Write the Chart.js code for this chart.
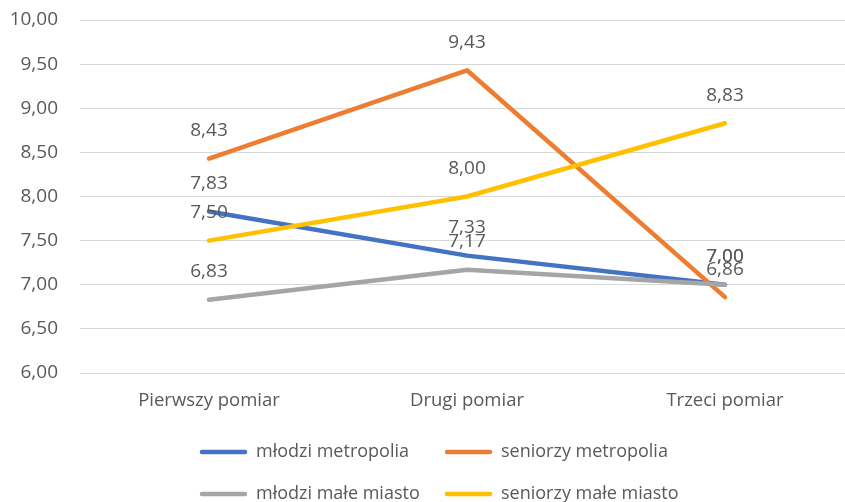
<!DOCTYPE html>
<html lang="pl">
<head>
<meta charset="utf-8">
<script src="https://cdn.jsdelivr.net/npm/chart.js@4"></script>
<style>
  html, body { margin: 0; padding: 0; background: #fff; overflow: hidden; }
  #wrap { position: relative; width: 854px; height: 502px; }
</style>
</head>
<body>
<div id="wrap"><canvas id="c"></canvas></div>
<script>
// Measurements (categories) and mean scores per group
const categories = ['Pierwszy pomiar', 'Drugi pomiar', 'Trzeci pomiar'];
const seriesNames = ['młodzi metropolia', 'seniorzy metropolia', 'młodzi małe miasto', 'seniorzy małe miasto'];
const mlodziMetropolia = [7.83, 7.33, 7.00];
const seniorzyMetropolia = [8.43, 9.43, 6.86];
const mlodziMaleMiasto = [6.83, 7.17, 7.00];
const seniorzyMaleMiasto = [7.50, 8.00, 8.83];
const yTicks = { min: 6, max: 10, step: 0.5 };

const colors = ['#4472C4', '#ED7D31', '#A5A5A5', '#FFC000'];
const values = [mlodziMetropolia, seniorzyMetropolia, mlodziMaleMiasto, seniorzyMaleMiasto];
const FONT = '"Open Sans", "Liberation Sans", sans-serif';
const TEXT = '#595959';

const fmt = v => v.toFixed(2).replace('.', ',');

// Value labels above each point
const valueLabels = {
  id: 'valueLabels',
  afterDatasetsDraw(chart) {
    const ctx = chart.ctx;
    ctx.save();
    ctx.font = '19px ' + FONT;
    ctx.fillStyle = TEXT;
    ctx.textAlign = 'center';
    ctx.textBaseline = 'middle';
    chart.data.datasets.forEach((ds, i) => {
      const meta = chart.getDatasetMeta(i);
      meta.data.forEach((pt, j) => {
        ctx.fillText(fmt(ds.data[j]), pt.x, pt.y - 28);
      });
    });
    ctx.restore();
  }
};

// Two-row legend under the plot
const bottomLegend = {
  id: 'bottomLegend',
  afterDraw(chart) {
    const ctx = chart.ctx;
    const cols = [200, 445];
    const rows = [452, 494];
    ctx.save();
    ctx.font = '18px ' + FONT;
    ctx.textBaseline = 'middle';
    ctx.lineCap = 'round';
    ctx.lineWidth = 4.5;
    chart.data.datasets.forEach((ds, i) => {
      const x = cols[i % 2];
      const y = rows[Math.floor(i / 2)];
      ctx.strokeStyle = ds.borderColor;
      ctx.beginPath();
      ctx.moveTo(x + 2, y);
      ctx.lineTo(x + 45, y);
      ctx.stroke();
      ctx.fillStyle = TEXT;
      ctx.textAlign = 'left';
      ctx.fillText(ds.label, x + 56, y);
    });
    ctx.restore();
  }
};

new Chart(document.getElementById('c'), {
  type: 'line',
  data: {
    labels: categories,
    datasets: seriesNames.map((name, i) => ({
      label: name,
      data: values[i],
      borderColor: colors[i],
      backgroundColor: colors[i],
      borderWidth: 4.5,
      borderCapStyle: 'round',
      borderJoinStyle: 'round',
      pointRadius: 0,
      tension: 0,
      fill: false,
      order: seriesNames.length - 1 - i
    }))
  },
  options: {
    responsive: true,
    maintainAspectRatio: false,
    animation: false,
    layout: { padding: { top: 20, right: 0, left: 0, bottom: 0 } },
    plugins: {
      legend: { display: false },
      tooltip: { enabled: false }
    },
    scales: {
      x: {
        offset: true,
        grid: { display: false, drawTicks: false },
        border: { display: false },
        ticks: { color: TEXT, font: { family: FONT, size: 18.5 }, padding: 17 },
        afterFit(s) { s.height = 129; s.paddingLeft = 0; s.paddingRight = 0; }
      },
      y: {
        min: yTicks.min,
        max: yTicks.max,
        grid: { color: '#D9D9D9', lineWidth: 1, drawTicks: false },
        border: { display: false },
        ticks: {
          stepSize: yTicks.step,
          color: TEXT,
          font: { family: FONT, size: 19 },
          padding: 22,
          callback: v => fmt(v)
        },
        afterFit(s) { s.width = 80; s.paddingTop = 0; s.paddingBottom = 0; }
      }
    }
  },
  plugins: [valueLabels, bottomLegend]
});
</script>
</body>
</html>
